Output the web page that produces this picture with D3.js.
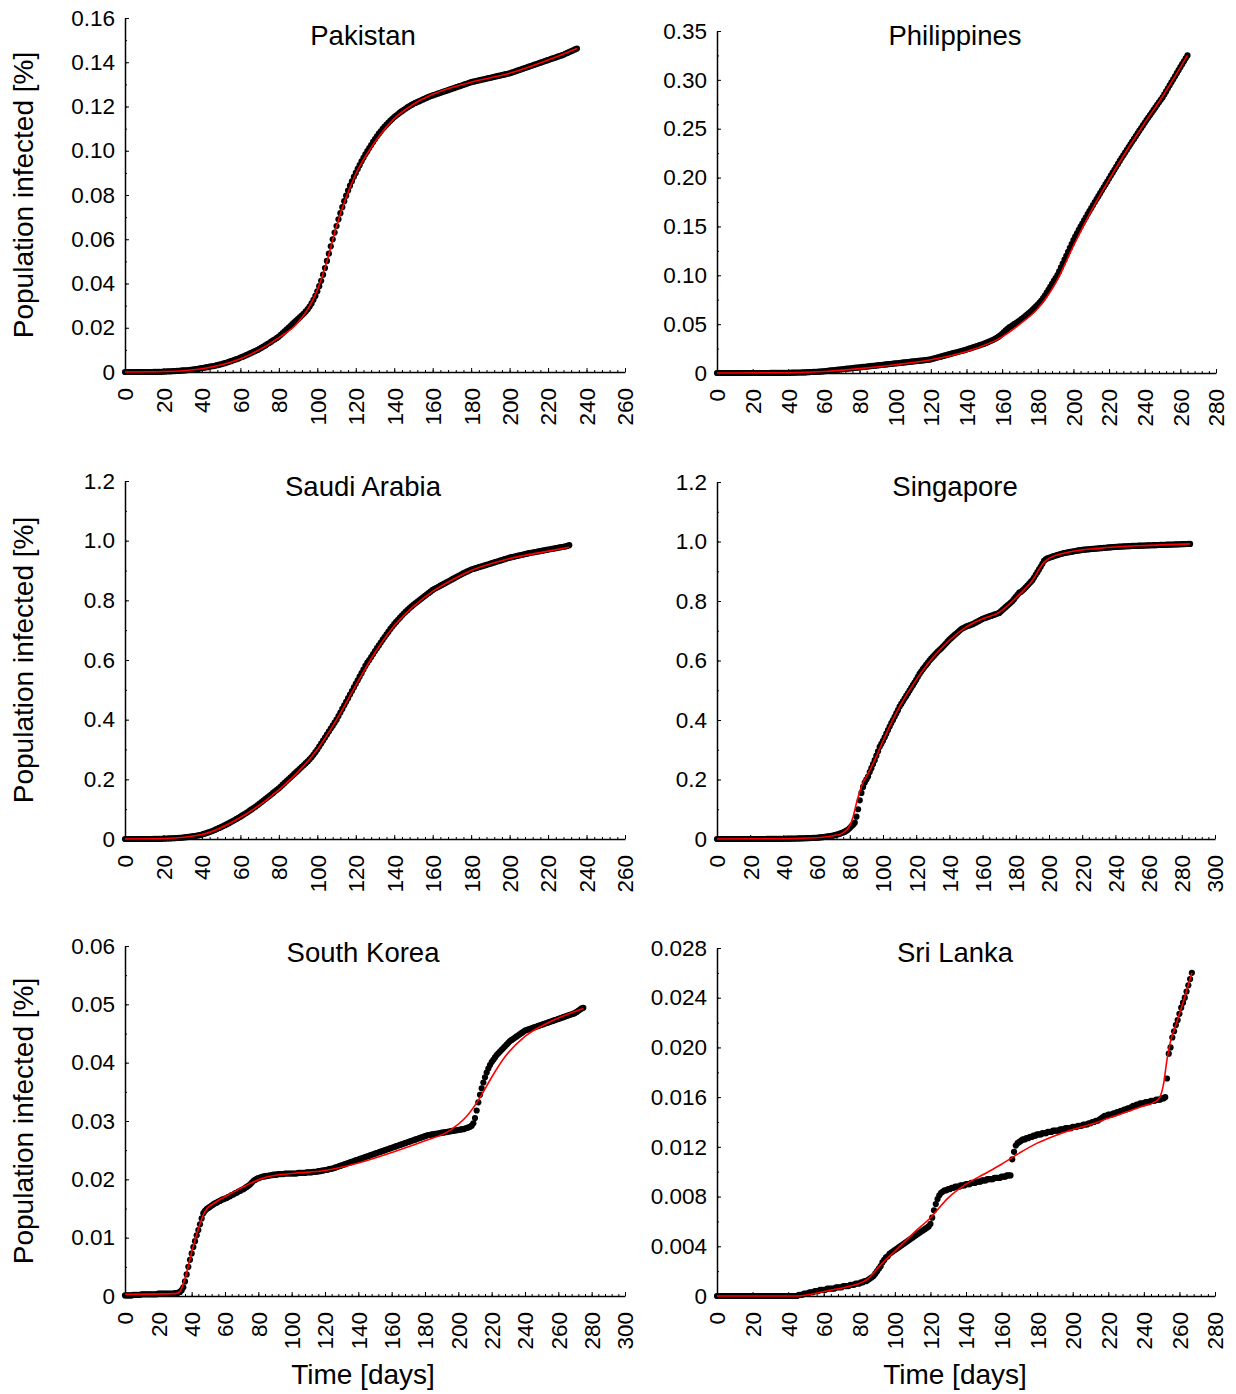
<!DOCTYPE html>
<html>
<head>
<meta charset="utf-8">
<script src="https://cdn.jsdelivr.net/npm/d3@7"></script>
<style>
  html, body { margin: 0; padding: 0; background: #fff; }
  svg { display: block; }
</style>
</head>
<body>
<svg id="chart" width="1236" height="1394"></svg>
<script>
// Cumulative share of population infected, one value per day (index = day)
const countries = ["Pakistan", "Philippines", "Saudi Arabia", "Singapore", "South Korea", "Sri Lanka"];

const pakistanCases = [
  0,0,0,0,0,0,0,0,0,0,
  0,0,0,0,0,.0001,.0001,.0001,.0001,.0001,
  .0002,.0002,.0003,.0003,.0003,.0004,.0004,.0005,.0005,.0006,
  .0007,.0007,.0008,.0009,.0010,.0011,.0012,.0013,.0014,.0016,
  .0018,.0019,.0021,.0022,.0024,.0026,.0027,.0029,.0031,.0033,
  .0035,.0038,.0040,.0043,.0046,.0049,.0052,.0055,.0058,.0061,
  .0065,.0068,.0072,.0076,.0080,.0084,.0088,.0092,.0096,.0100,
  .0105,.0110,.0115,.0120,.0126,.0131,.0137,.0143,.0148,.0154,
  .0160,.0168,.0176,.0184,.0192,.0200,.0208,.0216,.0224,.0232,
  .0240,.0248,.0256,.0264,.0274,.0284,.0296,.0310,.0326,.0344,
  .0365,.0388,.0412,.0440,.0470,.0502,.0535,.0568,.0600,.0630,
  .0660,.0690,.0718,.0745,.0772,.0797,.0820,.0842,.0862,.0882,
  .0900,.0918,.0935,.0952,.0968,.0984,.0998,.1012,.1026,.1040,
  .1053,.1065,.1077,.1088,.1099,.1109,.1118,.1127,.1136,.1144,
  .1152,.1159,.1166,.1173,.1179,.1185,.1191,.1197,.1202,.1207,
  .1212,.1216,.1220,.1224,.1228,.1232,.1236,.1240,.1244,.1247,
  .1250,.1253,.1256,.1259,.1262,.1265,.1268,.1271,.1274,.1277,
  .1280,.1283,.1286,.1289,.1292,.1295,.1298,.1301,.1304,.1307,
  .1310,.1312,.1314,.1316,.1318,.1320,.1322,.1324,.1326,.1328,
  .1330,.1332,.1334,.1336,.1338,.1340,.1342,.1344,.1346,.1348,
  .1350,.1353,.1356,.1359,.1362,.1365,.1368,.1371,.1374,.1377,
  .1380,.1383,.1386,.1389,.1392,.1395,.1398,.1401,.1404,.1407,
  .1410,.1413,.1416,.1419,.1422,.1425,.1428,.1431,.1434,.1438,
  .1442,.1446,.1450,.1454,.1458,.1462
];

const philippinesCases = [
  0,0,0,0,0,0,0,0,0,0,
  0,0,0,0,0,0,0,0,0,0,
  0,0,0,0,0,0,0,0,0,0,
  .0001,.0001,.0001,.0001,.0001,.0001,.0001,.0001,.0001,.0001,
  .0002,.0002,.0003,.0003,.0004,.0004,.0005,.0005,.0006,.0006,
  .0007,.0008,.0009,.0010,.0011,.0012,.0013,.0014,.0015,.0016,
  .0018,.0020,.0022,.0024,.0026,.0028,.0030,.0032,.0034,.0036,
  .0038,.0040,.0042,.0044,.0046,.0048,.0050,.0052,.0054,.0056,
  .0058,.0060,.0062,.0064,.0066,.0068,.0070,.0072,.0074,.0076,
  .0078,.0080,.0082,.0084,.0086,.0088,.0090,.0092,.0094,.0096,
  .0098,.0100,.0102,.0104,.0106,.0108,.0110,.0112,.0114,.0116,
  .0118,.0120,.0122,.0124,.0126,.0128,.0130,.0132,.0134,.0136,
  .0140,.0145,.0150,.0155,.0160,.0165,.0170,.0175,.0180,.0185,
  .0190,.0195,.0200,.0205,.0210,.0215,.0220,.0225,.0230,.0235,
  .0240,.0246,.0252,.0258,.0264,.0270,.0276,.0282,.0288,.0294,
  .0300,.0308,.0316,.0324,.0332,.0340,.0350,.0360,.0372,.0386,
  .0400,.0418,.0436,.0452,.0466,.0478,.0490,.0502,.0514,.0526,
  .0540,.0554,.0568,.0582,.0597,.0612,.0628,.0645,.0663,.0681,
  .0700,.0720,.0742,.0766,.0792,.0822,.0852,.0882,.0912,.0944,
  .0972,.1002,.1040,.1080,.1120,.1160,.1200,.1240,.1280,.1320,
  .1360,.1396,.1430,.1464,.1497,.1530,.1562,.1594,.1626,.1657,
  .1688,.1719,.1750,.1780,.1810,.1840,.1870,.1900,.1930,.1960,
  .1990,.2020,.2050,.2080,.2110,.2140,.2170,.2200,.2228,.2256,
  .2284,.2312,.2340,.2368,.2396,.2424,.2452,.2480,.2507,.2534,
  .2561,.2588,.2614,.2640,.2666,.2692,.2718,.2744,.2770,.2796,
  .2820,.2851,.2882,.2913,.2944,.2975,.3006,.3037,.3068,.3099,
  .3130,.3160,.3190,.3220,.3250
];

const saudiArabiaCases = [
  0,0,0,0,0,0,0,0,0,0,
  0,0,0,0,0,.0001,.0002,.0003,.0005,.0007,
  .0010,.0013,.0016,.0019,.0022,.0025,.0029,.0033,.0037,.0042,
  .0048,.0055,.0062,.0070,.0078,.0087,.0097,.0108,.0120,.0134,
  .0150,.0170,.0190,.0212,.0235,.0260,.0285,.0312,.0340,.0370,
  .0400,.0432,.0465,.0498,.0532,.0566,.0600,.0636,.0673,.0711,
  .0750,.0790,.0830,.0872,.0914,.0957,.1000,.1045,.1090,.1140,
  .1190,.1240,.1290,.1340,.1390,.1440,.1490,.1545,.1600,.1650,
  .1700,.1760,.1820,.1880,.1940,.2000,.2060,.2120,.2180,.2240,
  .2300,.2360,.2420,.2480,.2540,.2600,.2670,.2740,.2820,.2910,
  .3000,.3100,.3200,.3300,.3400,.3500,.3600,.3700,.3800,.3900,
  .4000,.4120,.4240,.4360,.4480,.4600,.4720,.4840,.4960,.5080,
  .5200,.5320,.5440,.5560,.5680,.5800,.5910,.6000,.6100,.6200,
  .6300,.6395,.6490,.6585,.6680,.6770,.6860,.6950,.7040,.7120,
  .7200,.7275,.7350,.7420,.7490,.7555,.7620,.7680,.7740,.7795,
  .7850,.7900,.7950,.8000,.8050,.8100,.8150,.8200,.8250,.8300,
  .8350,.8385,.8420,.8455,.8490,.8525,.8560,.8595,.8630,.8665,
  .8700,.8735,.8770,.8805,.8840,.8875,.8910,.8940,.8970,.9000,
  .9030,.9050,.9070,.9090,.9110,.9130,.9150,.9170,.9190,.9210,
  .9230,.9250,.9270,.9290,.9310,.9330,.9350,.9370,.9390,.9410,
  .9430,.9445,.9460,.9475,.9490,.9505,.9520,.9535,.9550,.9565,
  .9580,.9592,.9604,.9616,.9628,.9640,.9652,.9664,.9676,.9688,
  .9700,.9712,.9724,.9736,.9748,.9760,.9772,.9784,.9796,.9808,
  .9825,.9850
];

const singaporeCases = [
  0,0,0,0,0,0,0,0,0,0,
  0,0,0,0,0,0,0,0,0,0,
  0,0,0,0,0,0,0,0,0,0,
  .0002,.0002,.0003,.0003,.0004,.0004,.0005,.0005,.0006,.0007,
  .0008,.0009,.0010,.0011,.0012,.0013,.0014,.0015,.0016,.0018,
  .0020,.0022,.0024,.0026,.0028,.0030,.0032,.0034,.0036,.0039,
  .0042,.0047,.0052,.0058,.0064,.0070,.0078,.0086,.0095,.0105,
  .0118,.0130,.0145,.0160,.0178,.0198,.0220,.0245,.0280,.0320,
  .0370,.0430,.0480,.0550,.0750,.1000,.1300,.1550,.1750,.1900,
  .2000,.2100,.2250,.2380,.2520,.2650,.2800,.2950,.3100,.3200,
  .3300,.3420,.3540,.3660,.3780,.3900,.4000,.4110,.4220,.4330,
  .4450,.4540,.4630,.4720,.4810,.4900,.4990,.5080,.5170,.5260,
  .5350,.5450,.5550,.5630,.5710,.5780,.5850,.5920,.6000,.6060,
  .6120,.6180,.6240,.6300,.6350,.6400,.6460,.6520,.6580,.6640,
  .6700,.6750,.6800,.6850,.6900,.6950,.7000,.7050,.7080,.7110,
  .7140,.7160,.7180,.7200,.7220,.7250,.7280,.7310,.7340,.7370,
  .7400,.7420,.7440,.7460,.7480,.7500,.7520,.7540,.7560,.7580,
  .7600,.7650,.7700,.7750,.7800,.7850,.7900,.7950,.8000,.8070,
  .8140,.8210,.8280,.8300,.8350,.8400,.8460,.8520,.8580,.8640,
  .8700,.8790,.8880,.8970,.9060,.9150,.9250,.9350,.9400,.9430,
  .9450,.9470,.9490,.9510,.9530,.9545,.9560,.9580,.9595,.9610,
  .9620,.9630,.9640,.9650,.9660,.9670,.9680,.9690,.9700,.9710,
  .9720,.9725,.9730,.9735,.9740,.9745,.9750,.9755,.9760,.9765,
  .9770,.9775,.9780,.9785,.9790,.9795,.9800,.9805,.9810,.9815,
  .9820,.9823,.9826,.9829,.9832,.9835,.9838,.9841,.9844,.9847,
  .9850,.9852,.9854,.9856,.9858,.9860,.9862,.9864,.9866,.9868,
  .9870,.9872,.9874,.9876,.9878,.9880,.9882,.9884,.9886,.9888,
  .9890,.9892,.9894,.9896,.9898,.9900,.9902,.9904,.9906,.9908,
  .9910,.9912,.9914,.9916,.9918,.9920
];

const southKoreaCases = [
  .0001,.0001,.0001,.0001,.0001,.0002,.0002,.0002,.0002,.0002,
  .0003,.0003,.0003,.0003,.0003,.0003,.0003,.0003,.0003,.0003,
  .0004,.0004,.0004,.0004,.0004,.0004,.0004,.0004,.0004,.0004,
  .0005,.0005,.0006,.0007,.0010,.0015,.0025,.0037,.0050,.0062,
  .0073,.0084,.0094,.0104,.0113,.0123,.0133,.0142,.0146,.0149,
  .0151,.0153,.0155,.0157,.0159,.0160,.0162,.0163,.0165,.0166,
  .0167,
  .0168,.0170,.0171,.0173,.0174,.0176,.0177,.0179,.0180,.0182,
  .0183,.0185,.0187,.0189,.0191,.0194,.0197,.0199,.0201,.0202,
  .0203,.0204,.0205,.0205,.0206,.0206,.0207,.0207,.0208,.0208,
  .0208,.0209,.0209,.0209,.0209,.0210,.0210,.0210,.0210,.0210,
  .0210,.0210,.0210,.0211,.0211,.0211,.0211,.0211,.0212,.0212,
  .0212,.0212,.0213,.0213,.0213,.0214,.0214,.0215,.0215,.0216,
  .0216,.0217,.0218,.0218,.0219,.0220,.0221,.0222,.0223,.0224,
  .0225,.0226,.0227,.0228,.0229,.0230,.0231,.0232,.0233,.0234,
  .0235,.0236,.0237,.0238,.0239,.0240,.0241,.0242,.0243,.0244,
  .0245,.0246,.0247,.0248,.0249,.0250,.0251,.0252,.0253,.0254,
  .0255,.0256,.0257,.0258,.0259,.0260,.0261,.0262,.0263,.0264,
  .0265,.0266,.0267,.0268,.0269,.0270,.0271,.0272,.0273,.0274,
  .0275,.0276,.0276,.0277,.0277,.0278,.0278,.0279,.0279,.0280,
  .0280,.0281,.0281,.0282,.0282,.0283,.0283,.0284,.0284,.0285,
  .0285,.0286,.0286,.0287,.0288,.0289,.0290,.0292,.0296,.0305,
  .0318,.0332,.0345,.0356,.0366,.0375,.0383,.0390,.0396,.0401,
  .0405,.0409,.0413,.0416,.0419,.0422,.0425,.0428,.0431,.0434,
  .0437,.0439,.0441,.0443,.0445,.0447,.0449,.0451,.0453,.0455,
  .0456,.0457,.0458,.0459,.0460,.0461,.0462,.0463,.0464,.0465,
  .0466,.0467,.0468,.0469,.0470,.0471,.0472,.0473,.0474,.0475,
  .0476,.0477,.0478,.0479,.0480,.0481,.0482,.0483,.0484,.0485,
  .0487,.0489,.0491,.0493,.0494
];

const sriLankaCases = [
  0,0,0,0,0,0,0,0,0,0,
  0,0,0,0,0,0,0,0,0,0,
  0,0,0,0,0,0,0,0,0,0,
  0,0,0,0,0,0,0,0,0,0,
  0,0,0,0,0,
  .0000,.0001,.0001,.0001,.0002,.0002,.0002,.0003,.0003,.0003,
  .0004,.0004,.0004,.0005,.0005,.0005,.0005,.0006,.0006,.0006,
  .0006,.0006,.0007,.0007,.0007,.0007,.0008,.0008,.0008,.0008,
  .0009,.0009,.0009,.0010,.0010,.0010,.0011,.0011,.0012,.0012,
  .0013,.0014,.0015,.0016,.0018,.0020,.0022,.0024,.0027,.0029,
  .0031,.0032,.0034,.0035,.0036,.0037,.0038,.0039,.0040,.0041,
  .0042,.0043,.0044,.0045,.0046,.0047,.0048,.0049,.0050,.0051,
  .0052,.0053,.0054,.0055,.0056,.0058,.0063,.0069,.0074,.0078,
  .0081,.0083,.0084,.0085,.0085,.0086,.0086,.0087,.0087,.0088,
  .0088,.0088,.0089,.0089,.0089,.0090,.0090,.0090,.0091,.0091,
  .0091,.0092,.0092,.0092,.0093,.0093,.0093,.0094,.0094,.0094,
  .0094,.0095,.0095,.0095,.0095,.0096,.0096,.0096,.0097,.0097,
  .0097,.0110,.0116,.0121,.0123,.0124,.0125,.0126,.0126,.0127,
  .0127,.0128,.0128,.0129,.0129,.0130,.0130,.0130,.0131,.0131,
  .0131,.0132,.0132,.0132,.0133,.0133,.0133,.0133,.0134,.0134,
  .0134,.0135,.0135,.0135,.0135,.0136,.0136,.0136,.0137,.0137,
  .0137,.0138,.0138,.0138,.0139,.0139,.0140,.0140,.0141,.0141,
  .0142,.0143,.0144,.0145,.0145,.0146,.0146,.0146,.0147,.0147,
  .0148,.0148,.0149,.0149,.0150,.0150,.0151,.0151,.0152,.0153,
  .0153,.0154,.0154,.0155,.0155,.0155,.0156,.0156,.0156,.0157,
  .0157,.0157,.0158,.0158,.0158,.0159,.0159,.0160,.0175,.0195,
  .0200,.0208,.0213,.0218,.0222,.0227,.0232,.0236,.0240,.0245,
  .0250,.0255,.0260
];

// Fitted model curves: [day, share infected]
const pakistanFit = [[0,0],[20,.0002],[40,.0015],[60,.0060],[80,.0155],[90,.0225],[100,.0370],[105,.0500],
  [110,.0660],[115,.0790],[120,.0895],[130,.1040],[140,.1145],[150,.1210],[160,.1255],[180,.1310],
  [200,.1350],[220,.1410],[235,.1462]];
const philippinesFit = [[0,0],[40,.0003],[60,.0015],[80,.0045],[100,.0085],[120,.0135],[140,.0220],
  [160,.0370],[170,.0500],[180,.0660],[190,.0920],[200,.1300],[210,.1660],[220,.1980],[230,.2280],
  [240,.2560],[250,.2830],[264,.3250]];
const saudiArabiaFit = [[0,0],[20,.0015],[40,.0150],[60,.0720],[80,.1650],[90,.2250],[100,.3000],
  [110,.4000],[120,.5150],[130,.6250],[140,.7150],[150,.7800],[160,.8300],[170,.8680],[180,.9000],
  [200,.9400],[220,.9650],[231,.9780]];
const singaporeFit = [[0,0],[40,.0010],[60,.0040],[70,.0110],[75,.0180],[78,.0300],[80,.0450],
  [82,.0750],[84,.1200],[86,.1600],[88,.1900],[90,.2100],[95,.2650],[100,.3300],[110,.4450],
  [120,.5350],[130,.6100],[140,.6680],[150,.7120],[160,.7400],[170,.7620],[180,.8100],[190,.8700],
  [197,.9300],[200,.9430],[210,.9620],[230,.9770],[260,.9870],[285,.9920]];
const southKoreaFit = [[0,.0003],[30,.0004],[33,.0008],[36,.0030],[40,.0075],[44,.0115],[48,.0145],
  [55,.0162],[65,.0178],[75,.0193],[85,.0204],[100,.0210],[120,.0215],[140,.0228],[160,.0246],
  [180,.0266],[195,.0284],[205,.0308],[213,.0340],[220,.0375],[228,.0410],[240,.0445],[255,.0470],
  [275,.0493]];
const sriLankaFit = [[0,0],[45,0],[55,.0002],[65,.0005],[75,.0008],[85,.0014],[92,.0025],[100,.0036],
  [110,.0050],[120,.0063],[130,.0079],[140,.0090],[150,.0098],[160,.0106],[170,.0115],[180,.0123],
  [190,.0129],[200,.0134],[210,.0138],[220,.0143],[230,.0148],[240,.0153],[246,.0156],[249,.0160],
  [251,.0170],[253,.0190],[255,.0205],[258,.0218],[262,.0236],[267,.0260]];

// Tick labels
const xLabels260 = ["0","20","40","60","80","100","120","140","160","180","200","220","240","260"];
const xLabels280 = ["0","20","40","60","80","100","120","140","160","180","200","220","240","260","280"];
const xLabels300 = ["0","20","40","60","80","100","120","140","160","180","200","220","240","260","280","300"];
const pakistanYLabels = ["0","0.02","0.04","0.06","0.08","0.10","0.12","0.14","0.16"];
const philippinesYLabels = ["0","0.05","0.10","0.15","0.20","0.25","0.30","0.35"];
const saudiArabiaYLabels = ["0","0.2","0.4","0.6","0.8","1.0","1.2"];
const singaporeYLabels = ["0","0.2","0.4","0.6","0.8","1.0","1.2"];
const southKoreaYLabels = ["0","0.01","0.02","0.03","0.04","0.05","0.06"];
const sriLankaYLabels = ["0","0.004","0.008","0.012","0.016","0.020","0.024","0.028"];

const yAxisTitle = "Population infected [%]";
const xAxisTitle = "Time [days]";

// Panel frames (pixels)
const panelBoxes = [
  { left: 125, right: 625,  top: 18,  bottom: 372,  titleY: 45 },
  { left: 717, right: 1216, top: 31,  bottom: 373,  titleY: 45 },
  { left: 125, right: 625,  top: 481, bottom: 839,  titleY: 496 },
  { left: 717, right: 1215, top: 482, bottom: 839,  titleY: 496 },
  { left: 125, right: 625,  top: 946, bottom: 1296, titleY: 962 },
  { left: 717, right: 1215, top: 948, bottom: 1296, titleY: 962 }
];

const panels = [
  { cases: pakistanCases,    fit: pakistanFit,    xLabels: xLabels260, yLabels: pakistanYLabels },
  { cases: philippinesCases, fit: philippinesFit, xLabels: xLabels280, yLabels: philippinesYLabels },
  { cases: saudiArabiaCases, fit: saudiArabiaFit, xLabels: xLabels260, yLabels: saudiArabiaYLabels },
  { cases: singaporeCases,   fit: singaporeFit,   xLabels: xLabels300, yLabels: singaporeYLabels },
  { cases: southKoreaCases,  fit: southKoreaFit,  xLabels: xLabels300, yLabels: southKoreaYLabels },
  { cases: sriLankaCases,    fit: sriLankaFit,    xLabels: xLabels280, yLabels: sriLankaYLabels }
].map((p, i) => ({ name: countries[i], ...p }));

const FONT = "Arial, 'Liberation Sans', Helvetica, sans-serif";
const TICK_FONT = 22.5;
const LABEL_FONT = 28;
const svg = d3.select("#chart");

function styleAxis(sel, size) {
  sel.attr("font-family", FONT).attr("font-size", size);
  sel.selectAll("text").attr("fill", "#000");
  sel.selectAll("line").attr("stroke", "#000").attr("stroke-width", 1);
  sel.select(".domain").attr("stroke", "#000").attr("stroke-width", 1.5);
}

panels.forEach((p, i) => {
  const box = panelBoxes[i];
  const xVals = p.xLabels.map(Number);
  const yVals = p.yLabels.map(Number);
  const xMax = xVals[xVals.length - 1];
  const yMax = yVals[yVals.length - 1];

  const x = d3.scaleLinear().domain([0, xMax]).range([box.left, box.right]);
  const y = d3.scaleLinear().domain([0, yMax]).range([box.bottom, box.top]);

  const g = svg.append("g").attr("class", "panel");

  // minor ticks: five steps per labelled x interval, two per y interval
  const xStep = xVals[1], yStep = yVals[1];
  const xMinor = d3.range(Math.round(xMax / (xStep / 5)) + 1).map(k => k * xStep / 5);
  const yMinor = d3.range(Math.round(yMax / (yStep / 2)) + 1).map(k => k * yStep / 2);

  g.append("g").attr("transform", `translate(0,${box.bottom})`)
    .call(d3.axisBottom(x).tickValues(xMinor).tickSize(-2).tickSizeOuter(0).tickFormat(""))
    .call(s => { s.select(".domain").remove(); s.selectAll("line").attr("stroke", "#000"); });
  g.append("g").attr("transform", `translate(${box.left},0)`)
    .call(d3.axisLeft(y).tickValues(yMinor).tickSize(-2).tickSizeOuter(0).tickFormat(""))
    .call(s => { s.select(".domain").remove(); s.selectAll("line").attr("stroke", "#000"); });

  // x axis with rotated labels
  const xg = g.append("g").attr("transform", `translate(0,${box.bottom})`)
    .call(d3.axisBottom(x).tickValues(xVals).tickSize(-4).tickSizeOuter(0)
      .tickFormat((d, k) => p.xLabels[k]));
  styleAxis(xg, TICK_FONT);
  xg.selectAll("text")
    .attr("transform", "rotate(-90)")
    .attr("x", -16).attr("y", 0).attr("dy", "0.35em")
    .attr("text-anchor", "end");

  // y axis
  const yg = g.append("g").attr("transform", `translate(${box.left},0)`)
    .call(d3.axisLeft(y).tickValues(yVals).tickSize(-4).tickSizeOuter(0).tickPadding(10)
      .tickFormat((d, k) => p.yLabels[k]));
  styleAxis(yg, TICK_FONT);

  // observed daily values
  g.append("g").selectAll("circle")
    .data(p.cases)
    .join("circle")
    .attr("cx", (d, k) => x(k))
    .attr("cy", d => y(d))
    .attr("r", 3.1)
    .attr("fill", "#000");

  // fitted curve
  g.append("path")
    .datum(p.fit)
    .attr("fill", "none")
    .attr("stroke", "#ff0000")
    .attr("stroke-width", 1.6)
    .attr("d", d3.line().x(d => x(d[0])).y(d => y(d[1])).curve(d3.curveMonotoneX));

  // country title
  g.append("text")
    .attr("x", box.left + 238).attr("y", box.titleY)
    .attr("text-anchor", "middle")
    .attr("font-family", FONT).attr("font-size", 27.5)
    .text(p.name);

  if (i % 2 === 0) {
    g.append("text")
      .attr("transform", `translate(33,${(box.top + box.bottom) / 2}) rotate(-90)`)
      .attr("text-anchor", "middle")
      .attr("font-family", FONT).attr("font-size", LABEL_FONT)
      .text(yAxisTitle);
  }
  if (i >= 4) {
    g.append("text")
      .attr("x", box.left + 238).attr("y", 1384)
      .attr("text-anchor", "middle")
      .attr("font-family", FONT).attr("font-size", LABEL_FONT)
      .text(xAxisTitle);
  }
});
</script>
</body>
</html>
